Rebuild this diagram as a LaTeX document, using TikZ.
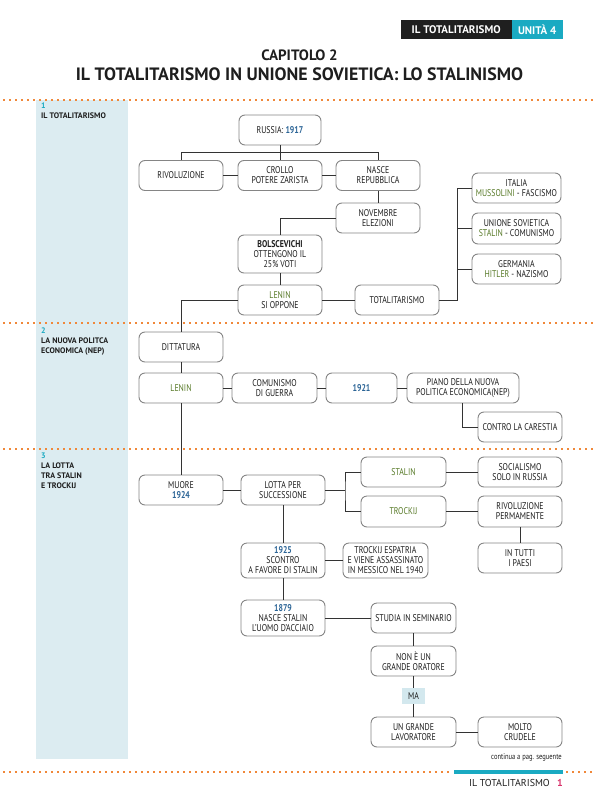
\documentclass[tikz,border=0pt]{standalone}
\usepackage{fontspec}
\setmainfont[FakeStretch=0.8, Ligatures=NoCommon]{PT Sans}
\newfontfamily\hdfont[Ligatures=NoCommon]{PT Sans}
\usetikzlibrary{calc}
\definecolor{txt}{HTML}{1E1E1E}
\definecolor{bord}{HTML}{858585}
\definecolor{yrc}{HTML}{2B6496}
\definecolor{nmc}{HTML}{587A28}
\definecolor{cyc}{HTML}{1AAAC2}
\definecolor{stripc}{HTML}{DCECF1}
\definecolor{dotc}{HTML}{F0883A}
\definecolor{pinkc}{HTML}{D8336B}
\definecolor{lnk}{HTML}{333333}
\definecolor{mac}{HTML}{D3E8EE}
\newcommand\yrs[1]{\textcolor{yrc}{\textbf{#1}}}
\newcommand\nms[1]{\textcolor{nmc}{#1}}
\begin{document}
\begin{tikzpicture}[x=1pt,y=-1pt,
  box/.style={draw=bord, line width=0.9pt, rounded corners=6pt, fill=white,
    minimum width=84pt, minimum height=30pt, inner sep=1pt, align=center,
    font=\fontsize{9.8}{10}\selectfont, text=txt},
  lk/.style={draw=lnk, line width=0.9pt},
  dotline/.style={draw=dotc, line width=1.6pt, dash pattern=on 1.5pt off 4.5pt},
  seclab/.style={anchor=north west, align=left, inner sep=0pt,
    font=\hdfont\bfseries\fontsize{8}{10}\selectfont, text=txt}]
\useasboundingbox (0,0) rectangle (593,808);
% header
\node[fill=black!88, text=white, minimum width=111pt, minimum height=19.3pt, inner sep=0pt,
  font=\hdfont\bfseries\fontsize{11}{11}\selectfont] (hd1) at (456.2,29.6) {IL TOTALITARISMO};
\node[fill=cyc, text=white, minimum width=51pt, minimum height=19.3pt, inner sep=0pt,
  font=\hdfont\bfseries\fontsize{11}{11}\selectfont] (hd2) at (537.2,29.6) {UNITÀ 4};
\node[font=\hdfont\bfseries\fontsize{15}{15}\selectfont, text=txt, inner sep=0pt] (cap) at (299.5,55) {CAPITOLO 2};
\node[font=\hdfont\bfseries\fontsize{17.9}{17.9}\selectfont, text=txt, inner sep=0pt] (tit) at (299.5,74) {IL TOTALITARISMO IN UNIONE SOVIETICA: LO STALINISMO};
% strip and dotted lines
\fill[stripc] (35.5,100) rectangle (127.7,759);
\draw[dotline] (3,100) -- (593,100);
\draw[dotline] (3,323) -- (593,323);
\draw[dotline] (3,449) -- (593,449);
\draw[dotline] (3,772) -- (452,772);
\draw[dotline] (566,772) -- (593,772);
\draw[draw=cyc, line width=4pt] (454,772) -- (563,772);
% section labels
\node[seclab] (s1) at (41,103) {\textcolor{cyc}{1}\\IL TOTALITARISMO};
\node[seclab] (s2) at (41,328) {\textcolor{cyc}{2}\\LA NUOVA POLITCA\\ECONOMICA (NEP)};
\node[seclab] (s3) at (41,453) {\textcolor{cyc}{3}\\LA LOTTA\\TRA STALIN\\E TROCKI\kern0ptJ};
% section 1 boxes
\node[box, minimum width=82pt] (russia) at (280,130) {RUSSIA: \yrs{1917}};
\node[box] (rivol) at (181,175.5) {RIVOLUZIONE};
\node[box] (crollo) at (280,175.5) {CROLLO\\POTERE ZARISTA};
\node[box] (nasce) at (378,175.5) {NASCE\\REPUBBLICA};
\node[box] (novembre) at (378,218) {NOVEMBRE\\ELEZIONI};
\node[box, minimum height=38pt] (bolsc) at (280,254) {\textbf{BOLSCEVICHI}\\OTTENGONO IL\\25\% VOTI};
\node[box] (lenin1) at (280,300) {\nms{LENIN}\\SI OPPONE};
\node[box] (totalit) at (397,300) {TOTALITARISMO};
\node[box, minimum width=89pt] (italia) at (516.5,188) {ITALIA\\\nms{MUSSOLINI} - FASCISMO};
\node[box, minimum width=89pt, minimum height=31pt] (urss) at (516.5,228.5) {UNIONE SOVIETICA\\\nms{STALIN} - COMUNISMO};
\node[box, minimum width=89pt] (germ) at (516.5,269) {GERMANIA\\\nms{HITLER} - NAZISMO};
% section 2 boxes
\node[box] (ditt) at (181,347) {DITTATURA};
\node[box] (lenin2) at (181,388) {\nms{LENIN}};
\node[box, minimum width=85pt] (comun) at (274.5,388) {COMUNISMO\\DI GUERRA};
\node[box, minimum width=71pt] (y1921) at (361.5,388) {\yrs{1921}};
\node[box, minimum width=112pt] (piano) at (463,388) {PIANO DELLA NUOVA\\POLITICA ECONOMICA(NEP)};
\node[box] (carest) at (520,427) {CONTRO LA CARESTIA};
% section 3 boxes
\node[box] (muore) at (181,490) {MUORE\\\yrs{1924}};
\node[box] (lotta) at (283,490) {LOTTA PER\\SUCCESSIONE};
\node[box, minimum width=85pt] (stalin) at (403.5,472) {\nms{STALIN}};
\node[box, minimum width=85pt, minimum height=31pt] (trockij) at (403.5,511.5) {\nms{TROCKI\kern0ptJ}};
\node[box] (social) at (520,472) {SOCIALISMO\\SOLO IN RUSSIA};
\node[box, minimum height=31pt] (rivperm) at (520,511.5) {RIVOLUZIONE\\PERMAMENTE};
\node[box] (intutti) at (520,558) {IN TUTTI\\I PAESI};
\node[box, minimum height=35pt] (y1925) at (283,560.5) {\yrs{1925}\\SCONTRO\\A FAVORE DI STALIN};
\node[box, minimum width=85pt, minimum height=35pt] (espatr) at (385.5,560.5) {TROCKI\kern0ptJ ESPATRIA\\E VIENE ASSASSINATO\\IN MESSICO NEL 1940};
\node[box, minimum height=36pt] (y1879) at (283,618) {\yrs{1879}\\NASCE STALIN\\L'UOMO D'ACCIAIO};
\node[box, minimum width=85pt] (studia) at (413.5,618) {STUDIA IN SEMINARIO};
\node[box, minimum width=85pt] (none) at (413.5,661) {NON È UN\\GRANDE ORATORE};
\node[fill=mac, minimum width=23pt, minimum height=16pt, inner sep=0pt, text=txt,
  font=\fontsize{9.8}{10}\selectfont] (ma) at (413.5,696) {MA};
\node[box, minimum width=85pt] (ungr) at (413.5,732) {UN GRANDE\\LAVORATORE};
\node[box] (molto) at (520,732) {MOLTO\\CRUDELE};
\node[anchor=east, inner sep=0pt, text=txt, font=\fontsize{8.2}{8.2}\selectfont] (cont) at (562,757) {continua a pag. seguente};
\node[anchor=east, inner sep=0pt, text=txt, font=\hdfont\fontsize{10}{10}\selectfont] (foot) at (550,783) {IL TOTALITARISMO};
\node[anchor=west, inner sep=0pt, text=pinkc, font=\hdfont\bfseries\fontsize{10}{10}\selectfont] (pg) at (557,783) {1};
% helper coordinates
\coordinate (bar) at (0,152);
\coordinate (jx) at (457,0);
\coordinate (fx) at (345,490);
% connectors section 1
\draw[lk] (rivol.north) |- (nasce.north |- bar) -- (nasce.north);
\draw[lk] (russia.south) -- (crollo.north);
\draw[lk] (rivol.east) -- (crollo.west);
\draw[lk] (crollo.east) -- (nasce.west);
\draw[lk] (nasce.south) -- (novembre.north);
\draw[lk] (novembre.west) -| (bolsc.north);
\draw[lk] (bolsc.south) -- (lenin1.north);
\draw[lk] (lenin1.east) -- (totalit.west);
\draw[lk] (totalit.east) -| (jx |- italia.west) -- (italia.west);
\draw[lk] (urss.west) -- (jx |- urss.west);
\draw[lk] (germ.west) -- (jx |- germ.west);
\draw[lk] (lenin1.west) -| (ditt.north);
% section 2
\draw[lk] (ditt.south) -- (lenin2.north);
\draw[lk] (lenin2.east) -- (comun.west);
\draw[lk] (comun.east) -- (y1921.west);
\draw[lk] (y1921.east) -- (piano.west);
\draw[lk] ([xshift=-1pt]piano.south) |- (carest.west);
\draw[lk] (lenin2.south) -- (muore.north);
% section 3
\draw[lk] (muore.east) -- (lotta.west);
\draw[lk] (lotta.east) -- (fx);
\draw[lk] (stalin.west) -| (fx) |- (trockij.west);
\draw[lk] (stalin.east) -- (social.west);
\draw[lk] (trockij.east) -- (rivperm.west);
\draw[lk] (rivperm.south) -- (intutti.north);
\draw[lk] (lotta.south) -- (y1925.north);
\draw[lk] (y1925.east) -- (espatr.west);
\draw[lk] (y1925.south) -- (y1879.north);
\draw[lk] (y1879.east) -- (studia.west);
\draw[lk] (studia.south) -- (none.north);
\draw[lk] (none.south) -- (ma.north);
\draw[lk] (ma.south) -- (ungr.north);
\draw[lk] (ungr.east) -- (molto.west);
\end{tikzpicture}
\end{document}
